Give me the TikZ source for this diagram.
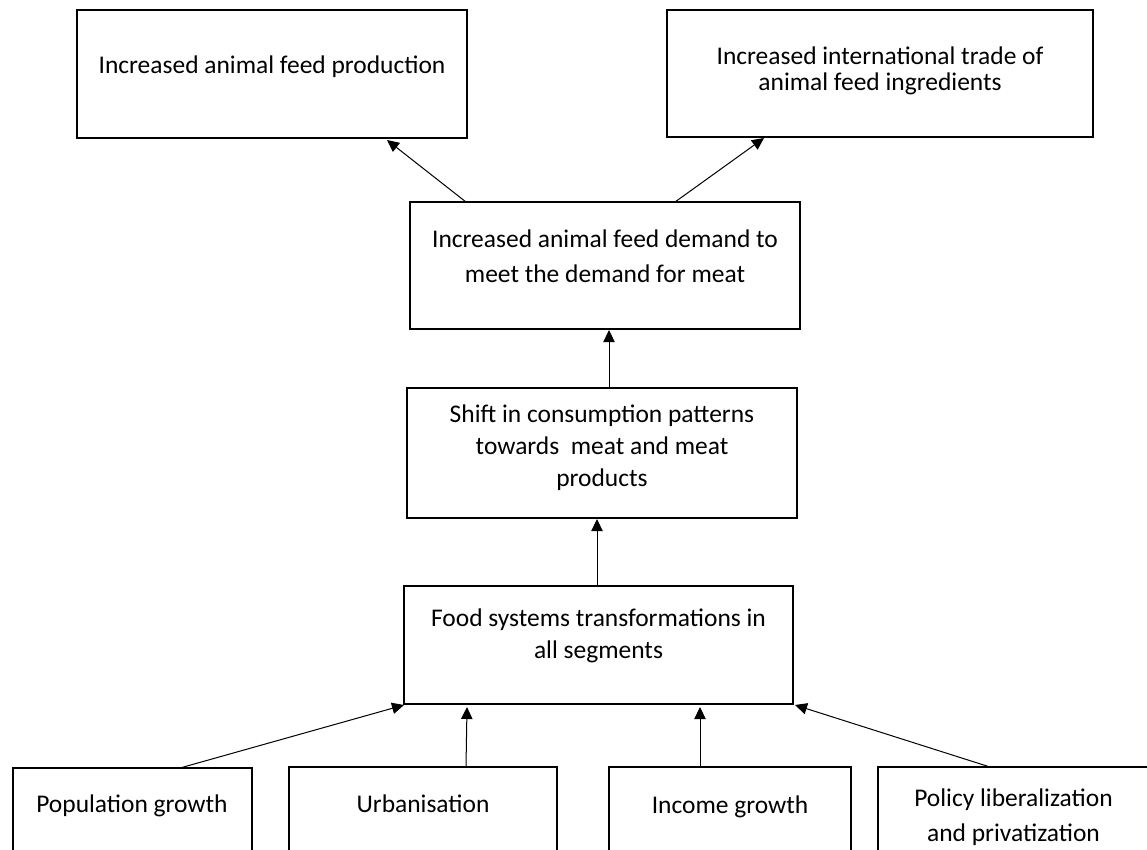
\documentclass[tikz,border=0pt]{standalone}
\usepackage{fontspec}
\newfontfamily\tf{Carlito}
\usetikzlibrary{arrows.meta,calc}
\begin{document}
\begin{tikzpicture}[x=0.75pt,y=-0.75pt,
  box/.style={draw=black, line width=1.5pt, rectangle, inner sep=0pt, outer sep=0pt, anchor=north west},
  txt/.style={inner sep=0pt, anchor=north, align=center, text=black},
  fa/.style={font={\tf\fontsize{19.1pt}{19.5pt}\selectfont}},
  fb/.style={font={\tf\fontsize{19.1pt}{24pt}\selectfont}},
  fc/.style={font={\tf\fontsize{19.1pt}{26.25pt}\selectfont}},
  arr/.style={draw=black, line width=0.75pt, -{Triangle[length=9pt,width=8.5pt]}}]
\useasboundingbox (0,0) rectangle (1147,850);
\clip (0,0) rectangle (1147,850);
% boxes
\node[box, minimum width=292.5pt, minimum height=96pt]    (A)  at (77,10)   {};
\node[box, minimum width=319.5pt, minimum height=95.25pt] (B)  at (667,10)  {};
\node[box, minimum width=292.5pt, minimum height=95.25pt] (C)  at (410,202) {};
\node[box, minimum width=292.5pt, minimum height=97.5pt]  (D)  at (407,388) {};
\node[box, minimum width=291.75pt, minimum height=88.5pt] (E)  at (404,586) {};
\node[box, minimum width=179.6pt, minimum height=99pt]    (P1) at (12.5,768) {};
\node[box, minimum width=201pt, minimum height=99pt]      (P2) at (289,767) {};
\node[box, minimum width=181.5pt, minimum height=99pt]    (P3) at (609,767) {};
\node[box, minimum width=211.5pt, minimum height=99pt]    (P4) at (878,767) {};
% texts
\node[txt, fc] (tA)  at (272,56)  {Increased animal feed production};
\node[txt, fa] (tB)  at (880,47)  {Increased international trade of\\animal feed ingredients};
\node[txt, fc] (tC)  at (605,230) {Increased animal feed demand to\\meet the demand for meat};
\node[txt, fb] (tD)  at (602,405) {Shift in consumption patterns\\towards\ \ meat and meat\\products};
\node[txt, fb] (tE)  at (598.5,609) {Food systems transformations in\\all segments};
\node[txt, fc] (tP1) at (132,795) {Population growth};
\node[txt, fc] (tP2) at (423,795) {Urbanisation};
\node[txt, fc] (tP3) at (730,796) {Income growth};
\node[txt, fc] (tP4) at (1013.5,789) {Policy liberalization\\and privatization};
% connectors
\draw[arr] ($(C.north west)+(56,0)$)   -- ($(A.south west)+(310,2)$);
\draw[arr] ($(C.north west)+(265,0)$)  -- ($(B.south west)+(97,1)$);
\draw[arr] ($(D.north west)+(202,0)$)  -- ($(C.south west)+(199,1)$);
\draw[arr] ($(E.north west)+(193,0)$)  -- ($(D.south west)+(190,1)$);
\draw[arr] ($(P1.north west)+(167.5,0)$) -- ($(E.south west)+(0,1)$);
\draw[arr] ($(P2.north west)+(177,0)$) -- ($(E.south west)+(63,3)$);
\draw[arr] ($(P3.north west)+(91,0)$)  -- ($(E.south west)+(296,3)$);
\draw[arr] ($(P4.north west)+(112,0)$) -- ($(E.south east)+(2,1)$);
\end{tikzpicture}
\end{document}
